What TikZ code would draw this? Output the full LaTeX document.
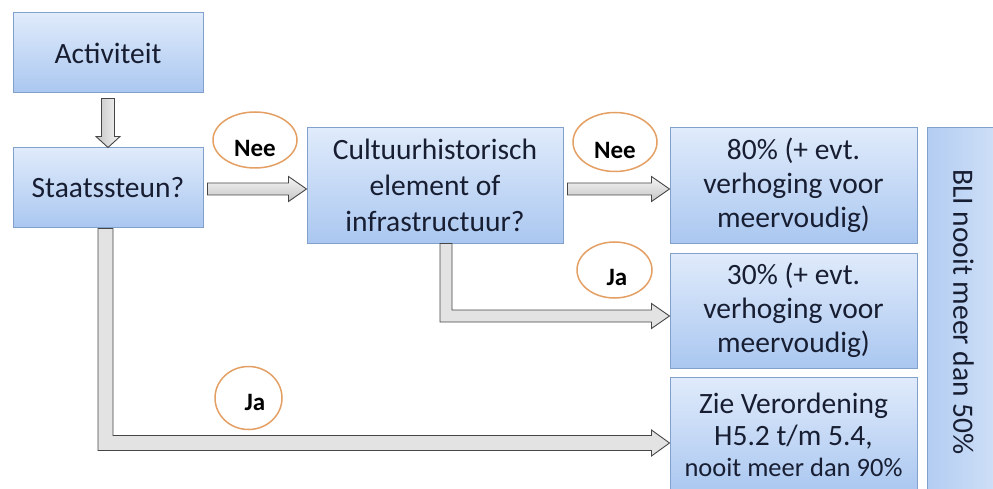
\documentclass[tikz,border=0pt]{standalone}
\usepackage{fontspec}
\setmainfont{Carlito}
\usetikzlibrary{calc,shapes.geometric}
\definecolor{boxtop}{RGB}{224,235,251}
\definecolor{boxbot}{RGB}{170,199,240}
\definecolor{boxline}{RGB}{130,160,204}
\definecolor{txt}{RGB}{24,30,50}
\definecolor{ring}{RGB}{228,160,100}
\definecolor{arrline}{RGB}{70,70,70}
\begin{document}
\begin{tikzpicture}[x=1pt,y=1pt,
  box/.style={rectangle, draw=boxline, line width=1pt, top color=boxtop, bottom color=boxbot,
    text=txt, align=center, inner sep=0pt, font=\fontsize{29.5}{36}\selectfont},
  tag/.style={ellipse, draw=ring, line width=1.5pt, fill=white, inner sep=0pt,
    text depth=0pt, font=\bfseries\fontsize{25}{28}\selectfont},
  blkh/.style={draw=arrline, line width=0.9pt, top color=gray!8, bottom color=gray!45},
  blkv/.style={draw=arrline, line width=0.9pt, left color=gray!45, right color=gray!8},
  blkl/.style={draw=arrline, line width=0.9pt, fill=gray!22}]
\useasboundingbox (0,0) rectangle (993,488);

% boxes
\node[box, minimum width=190, minimum height=80] (act) at (108,435) {Activiteit};
\node[box, minimum width=190, minimum height=80] (stat) at (108,300) {Staatssteun?};
\node[box, minimum width=256, minimum height=115] (cult) at (435,302.5)
  {Cultuurhistorisch\\element of\\infrastructuur?};
\node[box, minimum width=247, minimum height=115, font=\fontsize{29.5}{34}\selectfont] (r80) at (793.5,302.5)
  {80\% (+ evt.\\verhoging voor\\meervoudig)};
\node[box, minimum width=247, minimum height=115, font=\fontsize{29.5}{34}\selectfont] (r30) at (793.5,177.5)
  {30\% (+ evt.\\verhoging voor\\meervoudig)};
\node[box, minimum width=247, minimum height=116, font=\fontsize{29.5}{31.5}\selectfont] (zie) at (793.5,53)
  {Zie Verordening\\H5.2 t/m 5.4,\\{\fontsize{26.5}{31.5}\selectfont nooit meer dan 90\%}};
\node[box, minimum width=73, minimum height=368, left color=boxbot!90!white, right color=boxtop!70!boxbot] (bli) at (963.5,176)
  {\rotatebox{-90}{BLI nooit meer dan 50\%}};

% labels
\node[tag, minimum width=84, minimum height=56, text height=34pt] (nee1) at (255,348) {Nee};
\node[tag, minimum width=84, minimum height=59, text height=34pt] (nee2) at (615,346) {Nee};
\node[tag, minimum width=75, minimum height=56, text height=30pt] (ja1) at (614.5,218) {\hspace*{5pt}Ja};
\node[tag, minimum width=67, minimum height=63, text height=24pt] (ja2) at (248.5,90) {\hspace*{13pt}Ja};

% Activiteit -> Staatssteun?
\draw[blkv] let \p1=($(act.south)+(0,-5)$), \p2=(stat.north) in
  (\x1-6.5pt,\y1) -- (\x1+6.5pt,\y1) -- (\x1+6.5pt,\y2+11pt) -- (\x1+12pt,\y2+11pt)
  -- (\x1,\y2) -- (\x1-12pt,\y2+11pt) -- (\x1-6.5pt,\y2+11pt) -- cycle;

% Staatssteun? -> Cultuurhistorisch
\draw[blkh] let \p1=($(stat.east)+(4,-1)$), \p2=(cult.west) in
  (\x1,\y1+6pt) -- (\x2-18pt,\y1+6pt) -- (\x2-18pt,\y1+12.5pt) -- (\x2,\y1)
  -- (\x2-18pt,\y1-12.5pt) -- (\x2-18pt,\y1-6pt) -- (\x1,\y1-6pt) -- cycle;

% Cultuurhistorisch -> 80%
\draw[blkh] let \p1=($(cult.east)+(4,0)$), \p0=($(stat.east)+(0,-1)$), \p2=(r80.west) in
  (\x1,\y0+6pt) -- (\x2-18pt,\y0+6pt) -- (\x2-18pt,\y0+12.5pt) -- (\x2,\y0)
  -- (\x2-18pt,\y0-12.5pt) -- (\x2-18pt,\y0-6pt) -- (\x1,\y0-6pt) -- cycle;

% Cultuurhistorisch -> 30%
\draw[blkl] let \p1=($(cult.south)+(11,0)$), \p2=($(r30.west)+(0,-5.5)$) in
  (\x1-6pt,\y1) -- (\x1-6pt,\y2-6pt) -- (\x2-18pt,\y2-6pt) -- (\x2-18pt,\y2-12.5pt)
  -- (\x2,\y2) -- (\x2-18pt,\y2+12.5pt) -- (\x2-18pt,\y2+6pt) -- (\x1+6pt,\y2+6pt)
  -- (\x1+6pt,\y1) -- cycle;

% Staatssteun? -> Zie Verordening
\draw[blkl] let \p1=($(stat.south)+(-2.5,0)$), \p2=($(zie.west)+(0,-8)$) in
  (\x1-7.5pt,\y1) -- (\x1-7.5pt,\y2-7.5pt) -- (\x2-18pt,\y2-7.5pt) -- (\x2-18pt,\y2-13pt)
  -- (\x2,\y2) -- (\x2-18pt,\y2+13pt) -- (\x2-18pt,\y2+7.5pt) -- (\x1+7.5pt,\y2+7.5pt)
  -- (\x1+7.5pt,\y1) -- cycle;
\end{tikzpicture}
\end{document}
